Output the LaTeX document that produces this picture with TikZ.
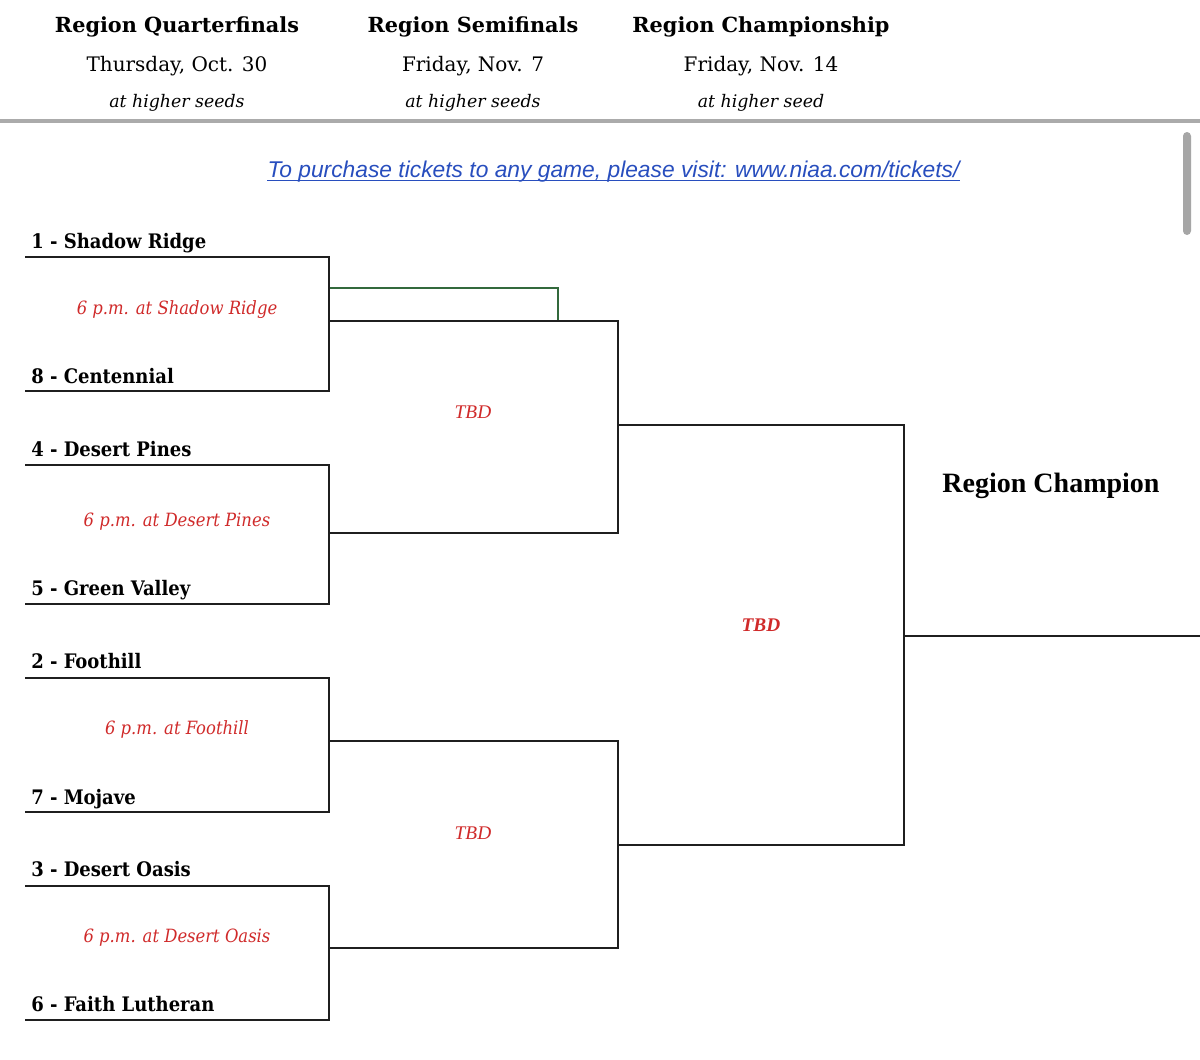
\documentclass[tikz,border=0pt]{standalone}
\usepackage{fontspec}
\setmainfont{DejaVu Serif}
\newfontfamily\teamfont{DejaVu Serif Condensed}
\newfontfamily\tbdfont{Liberation Serif}
\newfontfamily\linkfont{Liberation Sans}
\definecolor{tred}{RGB}{208,42,42}
\definecolor{lblue}{RGB}{40,78,190}
\definecolor{gbox}{RGB}{50,105,60}
\begin{document}
\begin{tikzpicture}[x=0.75pt,y=-0.75pt,
  bline/.style={line width=1.5pt, black!88},
  hdr/.style={font=\fontsize{15.6}{18}\selectfont\bfseries, anchor=base, inner sep=0},
  date/.style={font=\fontsize{15}{18}\selectfont, anchor=base, inner sep=0},
  seeds/.style={font=\fontsize{13}{15}\selectfont\itshape, anchor=base, inner sep=0},
  team/.style={font=\teamfont\fontsize{15}{18}\selectfont\bfseries, anchor=base west, inner sep=0},
  game/.style={font=\teamfont\fontsize{13.7}{16}\selectfont\itshape, text=tred, anchor=base, inner sep=0},
  tbd/.style={font=\tbdfont\fontsize{14.5}{17}\selectfont\itshape, text=tred, anchor=base, inner sep=0},
  champ/.style={font=\tbdfont\fontsize{21}{24}\selectfont\bfseries, anchor=base, inner sep=0}
]
\useasboundingbox (0,0) rectangle (1200,1060);
\fill[white] (0,0) rectangle (1200,1060);

% headers
\node[hdr] (h1) at (177,32) {Region Quarterfinals};
\node[hdr] (h2) at (473,32) {Region Semifinals};
\node[hdr] (h3) at (761,32) {Region Championship};
\node[date] (d1) at (177,71) {Thursday, Oct. 30};
\node[date] (d2) at (473,71) {Friday, Nov. 7};
\node[date] (d3) at (761,71) {Friday, Nov. 14};
\node[seeds] (s1) at (177,107) {at higher seeds};
\node[seeds] (s2) at (473,107) {at higher seeds};
\node[seeds] (s3) at (761,107) {at higher seed};
\coordinate (sepL) at (0,121);
\coordinate (sepR) at (1200,121);
\draw[line width=2.3pt, black!33] (sepL) -- (sepR);

% scrollbar
\fill[black!35, rounded corners=3pt] (1183,132) rectangle (1191,235);

% link
\node[font=\linkfont\fontsize{17.1}{20}\selectfont\itshape, text=lblue, anchor=base, inner sep=0] (link) at (613.5,177) {To purchase tickets to any game, please visit: www.niaa.com/tickets/};
\draw[lblue, line width=1.1pt] ([yshift=-2.8pt]link.base west) -- ([yshift=-2.8pt]link.base east);

% quarterfinal line coordinates
\foreach \n/\y in {a/257,b/391,c/465,d/604,e/678,f/812,g/886,h/1020}{
  \coordinate (L\n) at (25,\y);
  \coordinate (R\n) at (329,\y);
}
% team names
\node[team] (t1) at (31,248) {1 - Shadow Ridge};
\node[team] (t8) at (31,383) {8 - Centennial};
\node[team] (t4) at (31,456) {4 - Desert Pines};
\node[team] (t5) at (31,595) {5 - Green Valley};
\node[team] (t2) at (31,668) {2 - Foothill};
\node[team] (t7) at (31,804) {7 - Mojave};
\node[team] (t3) at (31,876) {3 - Desert Oasis};
\node[team] (t6) at (31,1011) {6 - Faith Lutheran};

% games
\node[game] (g1) at (177,314) {6 p.m. at Shadow Ridge};
\node[game] (g2) at (177,526) {6 p.m. at Desert Pines};
\node[game] (g3) at (177,734) {6 p.m. at Foothill};
\node[game] (g4) at (177,942) {6 p.m. at Desert Oasis};

% semifinal coordinates
\coordinate (q1) at (329,321);
\coordinate (q2) at (329,533);
\coordinate (q3) at (329,741);
\coordinate (q4) at (329,948);
\coordinate (s1a) at (618,321);
\coordinate (s1b) at (618,533);
\coordinate (s2a) at (618,741);
\coordinate (s2b) at (618,948);
\coordinate (f1) at (618,425);
\coordinate (f2) at (618,845);
\coordinate (f1r) at (904,425);
\coordinate (f2r) at (904,845);
\coordinate (fo) at (904,636);
\coordinate (fend) at (1200,636);

% green box
\draw[gbox, line width=0.8pt] (329,288) rectangle (558,321);

% QF brackets
\draw[bline] (La) -- (Ra) -- (Rb) -- (Lb);
\draw[bline] (Lc) -- (Rc) -- (Rd) -- (Ld);
\draw[bline] (Le) -- (Re) -- (Rf) -- (Lf);
\draw[bline] (Lg) -- (Rg) -- (Rh) -- (Lh);
% SF brackets
\draw[bline] (q1) -- (s1a) -- (s1b) -- (q2);
\draw[bline] (q3) -- (s2a) -- (s2b) -- (q4);
% final bracket
\draw[bline] (f1) -- (f1r) -- (f2r) -- (f2);
\draw[bline] (fo) -- (fend);

% TBD labels
\node[tbd] (tbd1) at (473,418) {TBD};
\node[tbd] (tbd2) at (473,839) {TBD};
\node[tbd, font=\tbdfont\fontsize{14.5}{17}\selectfont\bfseries\itshape] (tbd3) at (761,631) {TBD};
\node[champ] (rc) at (1051,492) {Region Champion};
\end{tikzpicture}
\end{document}
